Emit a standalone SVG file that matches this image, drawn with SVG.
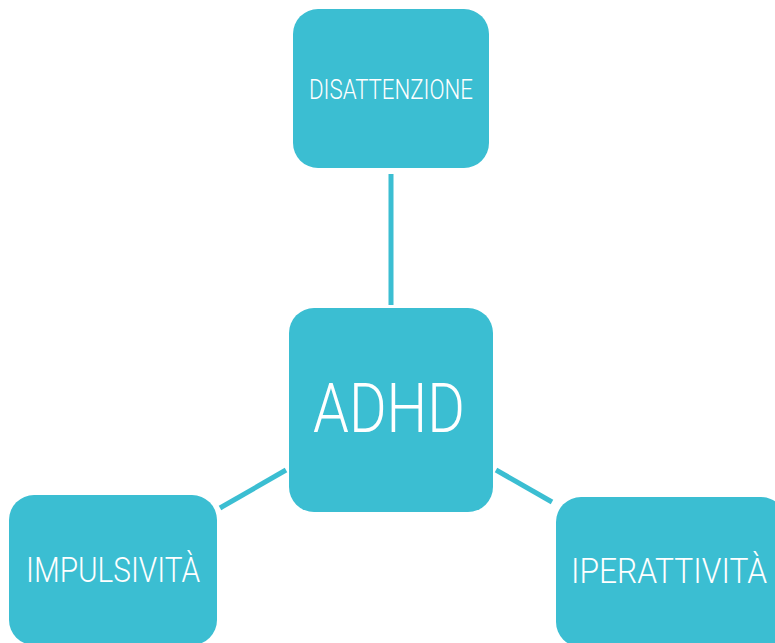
<svg xmlns="http://www.w3.org/2000/svg" width="775" height="643" viewBox="0 0 775 643">
<style>
.box{fill:#3BBED2}
.lbl{fill:#FFFFFF;font-family:Roboto,"Liberation Sans",sans-serif;font-weight:300;text-anchor:middle}
.edge{stroke:#3BBED2;stroke-width:5;fill:none}
</style>
<rect width="775" height="643" fill="#FFFFFF"/>
<g id="connectors">
<line class="edge" x1="391" y1="174" x2="391" y2="305"/>
<line class="edge" x1="220" y1="508" x2="286" y2="470"/>
<line class="edge" x1="496" y1="470" x2="552" y2="502"/>
</g>
<g id="disattenzione">
<rect class="box" x="293" y="9" width="196" height="159" rx="25"/>
<text class="lbl" x="391" y="99" font-size="28" textLength="164" lengthAdjust="spacingAndGlyphs">DISATTENZIONE</text>
</g>
<g id="adhd">
<rect class="box" x="289" y="308" width="204" height="204" rx="25"/>
<text class="lbl" x="389" y="432" font-size="69" textLength="152" lengthAdjust="spacingAndGlyphs">ADHD</text>
</g>
<g id="impulsivita">
<rect class="box" x="9" y="495" width="208" height="150" rx="25"/>
<text class="lbl" x="113" y="582" font-size="35" textLength="174" lengthAdjust="spacingAndGlyphs">IMPULSIVITÀ</text>
</g>
<g id="iperattivita">
<rect class="box" x="556" y="497" width="230" height="150" rx="25"/>
<text class="lbl" x="669" y="583" font-size="35" textLength="196" lengthAdjust="spacingAndGlyphs">IPERATTIVITÀ</text>
</g>
</svg>
